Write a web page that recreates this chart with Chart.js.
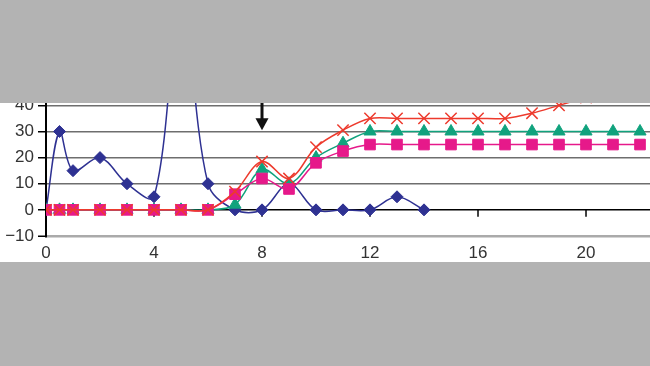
<!DOCTYPE html>
<html>
<head>
<meta charset="utf-8">
<script src="https://cdn.jsdelivr.net/npm/chart.js@4.4.0/dist/chart.umd.min.js"></script>
<style>
  html, body { margin: 0; padding: 0; background: #b3b3b3; width: 650px; height: 366px; overflow: hidden; }
  #wrap { position: absolute; left: 0; top: 103px; width: 650px; height: 159px; background: #fff; }
</style>
</head>
<body>
<div id="wrap"><canvas id="myChart" width="650" height="159"></canvas></div>
<script>
// x positions of the points
const blueX = [0, 0.5, 1, 2, 3, 4, 5, 6, 7, 8, 9, 10, 11, 12, 13, 14];
const stepX = [0, 0.5, 1, 2, 3, 4, 5, 6, 7, 8, 9, 10, 11, 12, 13, 14, 15, 16, 17, 18, 19, 20, 21, 22];

// series values
const blueY = [0, 30, 15, 20, 10, 5, 82, 10, 0, 0, 10, 0, 0, 0, 5, 0];
const redY = [0, 0, 0, 0, 0, 0, 0, 0, 7, 18.5, 12, 24, 30.5, 35, 35, 35, 35, 35, 35, 37, 40, 43, 46, 49];
const greenY = [0, 0, 0, 0, 0, 0, 0, 0, 2, 15.5, 10, 20, 25.5, 30, 30, 30, 30, 30, 30, 30, 30, 30, 30, 30];
const pinkY = [0, 0, 0, 0, 0, 0, 0, 0, 6, 12, 8, 18, 22.5, 25, 25, 25, 25, 25, 25, 25, 25, 25, 25, 25];

// arrow annotation (x value, y value of the tip)
const arrowAt = 8;
const arrowTip = 30.5;

const font = { family: "'Liberation Sans', Arial, sans-serif", size: 17 };

function pts(xs, ys) {
  return xs.map((x, i) => ({ x: x, y: ys[i] }));
}

// arrow + tick marks on the zero line
const extras = {
  id: "extras",
  beforeDatasetsDraw(chart) {
    const { ctx, scales: { x, y } } = chart;
    const zero = y.getPixelForValue(0);
    ctx.save();
    ctx.strokeStyle = "#000";
    ctx.lineWidth = 1.5;
    x.ticks.forEach((t) => {
      const tx = x.getPixelForValue(t.value);
      ctx.beginPath();
      ctx.moveTo(tx, zero);
      ctx.lineTo(tx, zero + 7);
      ctx.stroke();
    });
    ctx.restore();
  },
  afterDraw(chart) {
    const { ctx, chartArea, scales: { x, y } } = chart;
    const px = x.getPixelForValue(arrowAt);
    const tip = y.getPixelForValue(arrowTip);
    ctx.save();
    ctx.strokeStyle = "#111";
    ctx.fillStyle = "#111";
    ctx.lineWidth = 3;
    ctx.beginPath();
    ctx.moveTo(px, chartArea.top);
    ctx.lineTo(px, tip - 10);
    ctx.stroke();
    ctx.beginPath();
    ctx.moveTo(px - 6.5, tip - 12);
    ctx.lineTo(px + 6.5, tip - 12);
    ctx.lineTo(px, tip);
    ctx.closePath();
    ctx.fill();
    ctx.restore();
  }
};

const ctx = document.getElementById("myChart");
new Chart(ctx, {
  type: "line",
  data: {
    datasets: [
      {
        data: pts(stepX, redY), order: 0,
        borderColor: "#ed3a2d", pointStyle: "crossRot", pointRadius: 8,
        pointBorderColor: "#ed3a2d", pointBorderWidth: 1.5
      },
      {
        data: pts(stepX, pinkY), order: 1,
        borderColor: "#e6198a", pointStyle: "rect", pointRadius: 7.5,
        pointBackgroundColor: "#e6198a", pointBorderColor: "#e6198a", pointBorderWidth: 1
      },
      {
        data: pts(stepX, greenY), order: 2,
        borderColor: "#10a27d", pointStyle: "triangle", pointRadius: 7,
        pointBackgroundColor: "#10a27d", pointBorderColor: "#10a27d", pointBorderWidth: 1
      },
      {
        data: pts(blueX, blueY), order: 3,
        borderColor: "#2e3192", pointStyle: "rectRot", pointRadius: 6,
        pointBackgroundColor: "#2e3192", pointBorderColor: "#2e3192", pointBorderWidth: 1
      }
    ]
  },
  options: {
    responsive: false,
    animation: false,
    layout: { autoPadding: false, padding: 0 },
    plugins: { legend: { display: false }, tooltip: { enabled: false } },
    elements: { line: { tension: 0.35, capBezierPoints: false, borderWidth: 1.5, fill: false } },
    scales: {
      x: {
        type: "linear", min: 0, max: 22.37,
        grid: { display: false, drawTicks: false },
        border: { display: false },
        ticks: { stepSize: 4, includeBounds: false, padding: 7, color: "#333", font: font, maxRotation: 0 },
        afterFit(s) { s.height = 26; s.paddingLeft = 0; s.paddingRight = 0; }
      },
      y: {
        type: "linear", min: -10, max: 40.9,
        grid: {
          color: (c) => (c.tick && c.tick.value === 0 ? "#000" : c.tick && c.tick.value === -10 ? "#aaa" : "#6e6e6e"),
          lineWidth: (c) => (c.tick && c.tick.value === -10 ? 2.5 : 1.5),
          tickLength: 8, tickColor: "#000", tickWidth: 1.5
        },
        border: { color: "#000", width: 2 },
        ticks: {
          stepSize: 10, includeBounds: false, padding: 4, color: "#333", font: font,
          callback: (v) => String(v).replace("-", "\u2212")
        },
        afterFit(s) { s.width = 46; s.paddingTop = 0; s.paddingBottom = 0; }
      }
    }
  },
  plugins: [extras]
});
</script>
</body>
</html>
